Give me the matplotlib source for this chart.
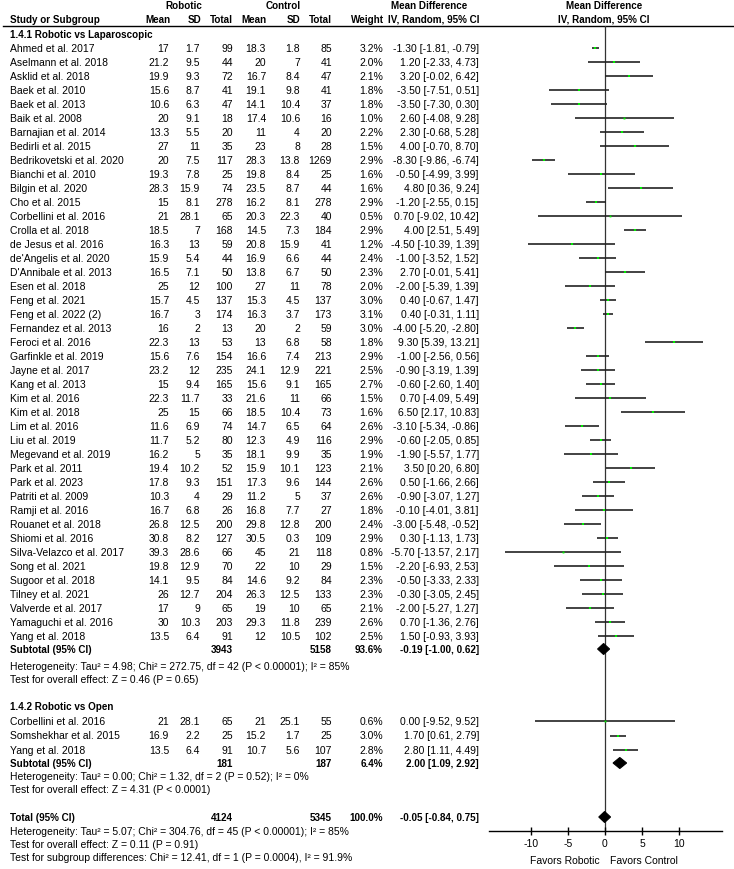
import matplotlib
matplotlib.use("Agg")
import matplotlib.pyplot as plt
from matplotlib.patches import Polygon

plt.rcParams['font.family'] = ['Liberation Sans', 'DejaVu Sans']
FS = 7.5
FSB = 7.1

# ---------------- data ----------------
g1_names = ["Ahmed et al. 2017", "Aselmann et al. 2018", "Asklid et al. 2018", "Baek et al. 2010",
            "Baek et al. 2013", "Baik et al. 2008", "Barnajian et al. 2014", "Bedirli et al. 2015",
            "Bedrikovetski et al. 2020", "Bianchi et al. 2010", "Bilgin et al. 2020", "Cho et al. 2015",
            "Corbellini et al. 2016", "Crolla et al. 2018", "de Jesus et al. 2016", "de'Angelis et al. 2020",
            "D'Annibale et al. 2013", "Esen et al. 2018", "Feng et al. 2021", "Feng et al. 2022 (2)",
            "Fernandez et al. 2013", "Feroci et al. 2016", "Garfinkle et al. 2019", "Jayne et al. 2017",
            "Kang et al. 2013", "Kim et al. 2016", "Kim et al. 2018", "Lim et al. 2016", "Liu et al. 2019",
            "Megevand et al. 2019", "Park et al. 2011", "Park et al. 2023", "Patriti et al. 2009",
            "Ramji et al. 2016", "Rouanet et al. 2018", "Shiomi et al. 2016", "Silva-Velazco et al. 2017",
            "Song et al. 2021", "Sugoor et al. 2018", "Tilney et al. 2021", "Valverde et al. 2017",
            "Yamaguchi et al. 2016", "Yang et al. 2018"]
g1_r_mean = [17, 21.2, 19.9, 15.6, 10.6, 20, 13.3, 27, 20, 19.3, 28.3, 15, 21, 18.5, 16.3, 15.9, 16.5, 25,
             15.7, 16.7, 16, 22.3, 15.6, 23.2, 15, 22.3, 25, 11.6, 11.7, 16.2, 19.4, 17.8, 10.3, 16.7, 26.8,
             30.8, 39.3, 19.8, 14.1, 26, 17, 30, 13.5]
g1_r_sd = [1.7, 9.5, 9.3, 8.7, 6.3, 9.1, 5.5, 11, 7.5, 7.8, 15.9, 8.1, 28.1, 7, 13, 5.4, 7.1, 12, 4.5, 3, 2,
           13, 7.6, 12, 9.4, 11.7, 15, 6.9, 5.2, 5, 10.2, 9.3, 4, 6.8, 12.5, 8.2, 28.6, 12.9, 9.5, 12.7, 9,
           10.3, 6.4]
g1_r_n = [99, 44, 72, 41, 47, 18, 20, 35, 117, 25, 74, 278, 65, 168, 59, 44, 50, 100, 137, 174, 13, 53, 154,
          235, 165, 33, 66, 74, 80, 35, 52, 151, 29, 26, 200, 127, 66, 70, 84, 204, 65, 203, 91]
g1_c_mean = [18.3, 20, 16.7, 19.1, 14.1, 17.4, 11, 23, 28.3, 19.8, 23.5, 16.2, 20.3, 14.5, 20.8, 16.9, 13.8,
             27, 15.3, 16.3, 20, 13, 16.6, 24.1, 15.6, 21.6, 18.5, 14.7, 12.3, 18.1, 15.9, 17.3, 11.2, 16.8,
             29.8, 30.5, 45, 22, 14.6, 26.3, 19, 29.3, 12]
g1_c_sd = [1.8, 7, 8.4, 9.8, 10.4, 10.6, 4, 8, 13.8, 8.4, 8.7, 8.1, 22.3, 7.3, 15.9, 6.6, 6.7, 11, 4.5, 3.7,
           2, 6.8, 7.4, 12.9, 9.1, 11, 10.4, 6.5, 4.9, 9.9, 10.1, 9.6, 5, 7.7, 12.8, 0.3, 21, 10, 9.2, 12.5,
           10, 11.8, 10.5]
g1_c_n = [85, 41, 47, 41, 37, 16, 20, 28, 1269, 25, 44, 278, 40, 184, 41, 44, 50, 78, 137, 173, 59, 58, 213,
          221, 165, 66, 73, 64, 116, 35, 123, 144, 37, 27, 200, 109, 118, 29, 84, 133, 65, 239, 102]
g1_weight = [3.2, 2.0, 2.1, 1.8, 1.8, 1.0, 2.2, 1.5, 2.9, 1.6, 1.6, 2.9, 0.5, 2.9, 1.2, 2.4, 2.3, 2.0, 3.0,
             3.1, 3.0, 1.8, 2.9, 2.5, 2.7, 1.5, 1.6, 2.6, 2.9, 1.9, 2.1, 2.6, 2.6, 1.8, 2.4, 2.9, 0.8, 1.5,
             2.3, 2.3, 2.1, 2.6, 2.5]
g1_md = [-1.30, 1.20, 3.20, -3.50, -3.50, 2.60, 2.30, 4.00, -8.30, -0.50, 4.80, -1.20, 0.70, 4.00, -4.50,
         -1.00, 2.70, -2.00, 0.40, 0.40, -4.00, 9.30, -1.00, -0.90, -0.60, 0.70, 6.50, -3.10, -0.60, -1.90,
         3.50, 0.50, -0.90, -0.10, -3.00, 0.30, -5.70, -2.20, -0.50, -0.30, -2.00, 0.70, 1.50]
g1_lo = [-1.81, -2.33, -0.02, -7.51, -7.30, -4.08, -0.68, -0.70, -9.86, -4.99, 0.36, -2.55, -9.02, 2.51,
         -10.39, -3.52, -0.01, -5.39, -0.67, -0.31, -5.20, 5.39, -2.56, -3.19, -2.60, -4.09, 2.17, -5.34,
         -2.05, -5.57, 0.20, -1.66, -3.07, -4.01, -5.48, -1.13, -13.57, -6.93, -3.33, -3.05, -5.27, -1.36,
         -0.93]
g1_hi = [-0.79, 4.73, 6.42, 0.51, 0.30, 9.28, 5.28, 8.70, -6.74, 3.99, 9.24, 0.15, 10.42, 5.49, 1.39, 1.52,
         5.41, 1.39, 1.47, 1.11, -2.80, 13.21, 0.56, 1.39, 1.40, 5.49, 10.83, -0.86, 0.85, 1.77, 6.80, 2.66,
         1.27, 3.81, -0.52, 1.73, 2.17, 2.53, 2.33, 2.45, 1.27, 2.76, 3.93]

g2_names = ["Corbellini et al. 2016", "Somshekhar et al. 2015", "Yang et al. 2018"]
g2_r_mean = [21, 16.9, 13.5]
g2_r_sd = [28.1, 2.2, 6.4]
g2_r_n = [65, 25, 91]
g2_c_mean = [21, 15.2, 10.7]
g2_c_sd = [25.1, 1.7, 5.6]
g2_c_n = [55, 25, 107]
g2_weight = [0.6, 3.0, 2.8]
g2_md = [0.00, 1.70, 2.80]
g2_lo = [-9.52, 0.61, 1.11]
g2_hi = [9.52, 2.79, 4.49]

sub_labels = ["Subtotal (95% CI)", "Subtotal (95% CI)", "Total (95% CI)"]
sub_r_n = [3943, 181, 4124]
sub_c_n = [5158, 187, 5345]
sub_weight = [93.6, 6.4, 100.0]
sub_md = [-0.19, 2.00, -0.05]
sub_lo = [-1.00, 1.09, -0.84]
sub_hi = [0.62, 2.92, 0.75]

group_titles = ["1.4.1 Robotic vs Laparoscopic", "1.4.2 Robotic vs Open"]
stats_text = [
    ["Heterogeneity: Tau\u00b2 = 4.98; Chi\u00b2 = 272.75, df = 42 (P < 0.00001); I\u00b2 = 85%",
     "Test for overall effect: Z = 0.46 (P = 0.65)"],
    ["Heterogeneity: Tau\u00b2 = 0.00; Chi\u00b2 = 1.32, df = 2 (P = 0.52); I\u00b2 = 0%",
     "Test for overall effect: Z = 4.31 (P < 0.0001)"],
    ["Heterogeneity: Tau\u00b2 = 5.07; Chi\u00b2 = 304.76, df = 45 (P < 0.00001); I\u00b2 = 85%",
     "Test for overall effect: Z = 0.11 (P = 0.91)",
     "Test for subgroup differences: Chi\u00b2 = 12.41, df = 1 (P = 0.0004), I\u00b2 = 91.9%"],
]
x_ticks = [-10, -5, 0, 5, 10]
favors_left = "Favors Robotic"
favors_right = "Favors Control"

# ---------------- layout (pixel units) ----------------
W, H = 734, 870
fig = plt.figure(figsize=(W / 100, H / 100), dpi=100)
tx = fig.add_axes([0, 0, 1, 1])
tx.set_xlim(0, W)
tx.set_ylim(H, 0)
tx.axis('off')

X_NAME = 10
X_RM, X_RSD, X_RN = 169, 200, 233
X_CM, X_CSD, X_CN = 266, 300, 332
X_W, X_CI = 383, 479

def t(x, y, s, ha='left', bold=False, fs=None):
    if fs is None:
        fs = FSB if bold else FS
    tx.text(x, y, s, ha=ha, va='center', fontsize=fs,
            fontweight='bold' if bold else 'normal', color='black')

def fmt(v):
    return '{:g}'.format(v)

def ci(m, l, h):
    return '{:.2f} [{:.2f}, {:.2f}]'.format(m, l, h)

# headers
t(184, 6, "Robotic", 'center', True)
t(283, 6, "Control", 'center', True)
t(429, 6, "Mean Difference", 'center', True)
t(604, 6, "Mean Difference", 'center', True)
t(X_NAME, 20, "Study or Subgroup", 'left', True)
for x, s in [(171, "Mean"), (201, "SD"), (233, "Total"), (266, "Mean"), (300, "SD"), (332, "Total"),
             (384, "Weight"), (479, "IV, Random, 95% CI")]:
    t(x, 20, s, 'right', True)
t(604, 20, "IV, Random, 95% CI", 'center', True)
tx.plot([3, W], [26.5, 26.5], color='black', lw=1.0)

# forest axes
Y_TOP, Y_AX = 26.5, 832
XL, XR = 489, 722
X0, PX_PER_UNIT = 605, 7.4
fx = fig.add_axes([XL / W, 1 - Y_AX / H, (XR - XL) / W, (Y_AX - Y_TOP) / H])
fx.set_xlim((XL - X0) / PX_PER_UNIT, (XR - X0) / PX_PER_UNIT)
fx.set_ylim(Y_AX, Y_TOP)
fx.patch.set_visible(False)
for sp in ['top', 'left', 'right']:
    fx.spines[sp].set_visible(False)
fx.spines['bottom'].set_linewidth(1.0)
fx.set_yticks([])
fx.set_xticks(x_ticks)
fx.set_xticklabels([str(v) for v in x_ticks])
fx.tick_params(axis='x', direction='inout', length=6, width=1.0, labelsize=FS, pad=2)
fx.axvline(0, color='#333333', lw=0.9, zorder=1)

def study_rows(names, rm, rsd, rn, cm, csd, cn, w, md, lo, hi, ys):
    for i, y in enumerate(ys):
        t(X_NAME, y, names[i])
        t(X_RM, y, fmt(rm[i]), 'right')
        t(X_RSD, y, fmt(rsd[i]), 'right')
        t(X_RN, y, fmt(rn[i]), 'right')
        t(X_CM, y, fmt(cm[i]), 'right')
        t(X_CSD, y, fmt(csd[i]), 'right')
        t(X_CN, y, fmt(cn[i]), 'right')
        t(X_W, y, '{:.1f}%'.format(w[i]), 'right')
        t(X_CI, y, ci(md[i], lo[i], hi[i]), 'right')
        fx.plot([lo[i], hi[i]], [y, y], color='#222222', lw=1.2, solid_capstyle='butt', zorder=2)
        fx.plot([md[i]], [y], marker='s', ms=1.2 + 0.2 * w[i], color='#00ee00', mew=0, zorder=3)

def subtotal(k, y):
    t(X_NAME, y, sub_labels[k], 'left', True)
    t(X_RN, y, fmt(sub_r_n[k]), 'right', True)
    t(X_CN, y, fmt(sub_c_n[k]), 'right', True)
    t(X_W, y, '{:.1f}%'.format(sub_weight[k]), 'right', True)
    t(X_CI, y, ci(sub_md[k], sub_lo[k], sub_hi[k]), 'right', True)
    hh = 5.5
    fx.add_patch(Polygon([[sub_lo[k], y], [sub_md[k], y - hh], [sub_hi[k], y], [sub_md[k], y + hh]],
                         closed=True, facecolor='black', edgecolor='black', lw=0.8, zorder=4))

# group 1
t(X_NAME, 35, group_titles[0], 'left', True)
ys1 = [49 + 14.0 * i for i in range(len(g1_names))]
study_rows(g1_names, g1_r_mean, g1_r_sd, g1_r_n, g1_c_mean, g1_c_sd, g1_c_n,
           g1_weight, g1_md, g1_lo, g1_hi, ys1)
subtotal(0, 650)
t(X_NAME, 667, stats_text[0][0])
t(X_NAME, 680, stats_text[0][1])

# group 2
t(X_NAME, 707, group_titles[1], 'left', True)
ys2 = [722 + 14.5 * i for i in range(len(g2_names))]
study_rows(g2_names, g2_r_mean, g2_r_sd, g2_r_n, g2_c_mean, g2_c_sd, g2_c_n,
           g2_weight, g2_md, g2_lo, g2_hi, ys2)
subtotal(1, 764)
t(X_NAME, 777, stats_text[1][0])
t(X_NAME, 790, stats_text[1][1])

# total
subtotal(2, 818)
for s, y in zip(stats_text[2], [832, 845, 858]):
    t(X_NAME, y, s)

t(600, 861, favors_left, 'right')
t(610, 861, favors_right, 'left')

fig.savefig("out.png", dpi=100)
